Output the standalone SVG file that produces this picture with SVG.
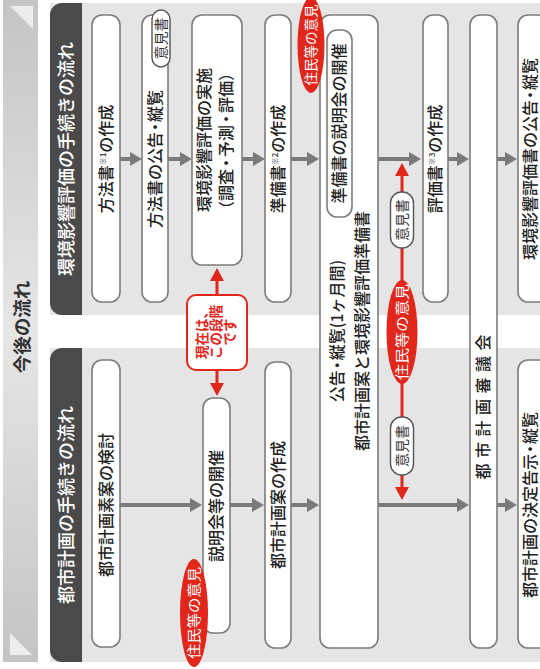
<svg xmlns="http://www.w3.org/2000/svg" width="540" height="669" viewBox="0 0 540 669">
<style>
text{font-family:"Noto Sans CJK JP","Noto Sans",sans-serif;}
.panel{fill:#e5e5e5}
.tab{fill:#4a4a4a}
.tabt{font-size:18px;fill:#fff;text-anchor:middle;font-weight:500}
.node{fill:#fff;stroke:#7d7d7d;stroke-width:1.6}
.t{font-size:16px;fill:#222;text-anchor:middle;font-weight:500}
.sup{font-size:8px}
.arr{stroke:#7a7a7a;stroke-width:4;fill:none}
.red{stroke:#e1261c;stroke-width:3;fill:none}
.ell{fill:#e1261c}
.et{font-size:13.5px;fill:#fff;text-anchor:middle}
.badge{fill:#fff;stroke:#555;stroke-width:1.4}
.bt{font-size:14px;fill:#333;text-anchor:middle}
.now{fill:#fff;stroke:#e1261c;stroke-width:2}
.nt{font-size:13.5px;fill:#e1261c;text-anchor:middle;font-weight:bold}
</style>
<defs>
<linearGradient id="sg" x1="0" y1="0" x2="1" y2="0">
<stop offset="0" stop-color="#c4c4c4"/>
<stop offset="0.5" stop-color="#e6e6e6"/>
<stop offset="1" stop-color="#c4c4c4"/>
</linearGradient>
<marker id="ga" markerUnits="userSpaceOnUse" markerWidth="12" markerHeight="14" refX="2" refY="7" orient="auto">
<path d="M0,0 L12,7 L0,14 Z" fill="#7a7a7a"/>
</marker>
<marker id="ra" markerUnits="userSpaceOnUse" markerWidth="13" markerHeight="14" refX="3" refY="7" orient="auto">
<path d="M0,0 L13,7 L0,14 Z" fill="#e1261c"/>
</marker>
</defs>
<g transform="translate(0,669) rotate(-90)">
<g id="title">
<rect x="7" y="3" width="662" height="35" fill="url(#sg)"/>
<polygon points="663,10 663,33 640,33" fill="#ededed"/>
<polygon points="36,10 14,10 14,32" fill="#ededed"/>
<text x="342" y="29" font-size="18.5" font-weight="bold" fill="#333" text-anchor="middle">今後の流れ</text>
</g>
<g id="panel-env">
<rect class="panel" x="354" y="50" width="312" height="490"/>
<path class="tab" d="M354,82 V62 A12,12 0 0 1 366,50 H654 A12,12 0 0 1 666,62 V82 Z"/>
<text class="tabt" x="510" y="72.5">環境影響評価の手続きの流れ</text>
</g>
<g id="panel-city">
<rect class="panel" x="7" y="50" width="314" height="490"/>
<path class="tab" d="M7,82 V62 A12,12 0 0 1 19,50 H309 A12,12 0 0 1 321,62 V82 Z"/>
<text class="tabt" x="164" y="72.5">都市計画の手続きの流れ</text>
</g>
<g id="connectors">
<line class="arr" x1="510" y1="120" x2="510" y2="132" marker-end="url(#ga)"/>
<line class="arr" x1="510" y1="168" x2="510" y2="182" marker-end="url(#ga)"/>
<line class="arr" x1="510" y1="242" x2="510" y2="255" marker-end="url(#ga)"/>
<line class="arr" x1="510" y1="291" x2="510" y2="309" marker-end="url(#ga)"/>
<line class="arr" x1="510" y1="378" x2="510" y2="411" marker-end="url(#ga)"/>
<line class="arr" x1="510" y1="448" x2="510" y2="459" marker-end="url(#ga)"/>
<line class="arr" x1="510" y1="497" x2="510" y2="507" marker-end="url(#ga)"/>
<line class="arr" x1="164" y1="120" x2="164" y2="192" marker-end="url(#ga)"/>
<line class="arr" x1="164" y1="230" x2="164" y2="254" marker-end="url(#ga)"/>
<line class="arr" x1="164" y1="291" x2="164" y2="309" marker-end="url(#ga)"/>
<line class="arr" x1="164" y1="378" x2="164" y2="459" marker-end="url(#ga)"/>
<line class="arr" x1="164" y1="497" x2="164" y2="507" marker-end="url(#ga)"/>
<line class="red" x1="374" y1="217" x2="391" y2="217" marker-end="url(#ra)"/>
<line class="red" x1="299" y1="217" x2="283" y2="217" marker-end="url(#ra)"/>
<line class="red" x1="337" y1="402" x2="496" y2="402" marker-end="url(#ra)"/>
<line class="red" x1="337" y1="402" x2="179" y2="402" marker-end="url(#ra)"/>
</g>
<g id="n-houhousho">
<rect class="node" x="367" y="92" width="287" height="28" rx="10"/>
<text class="t" x="510" y="111.5">方法書<tspan class="sup" dy="-6">※1</tspan><tspan dy="6">の作成</tspan></text>
</g>
<g id="n-houhou-koukoku">
<rect class="node" x="367" y="142" width="287" height="26" rx="10"/>
<text class="t" x="510" y="160.5">方法書の公告<tspan dx="-3">・</tspan><tspan dx="-3">縦覧</tspan></text>
<rect class="badge" x="602" y="152" width="57" height="18" rx="9"/>
<text class="bt" x="630.5" y="166" font-size="13">意見書</text>
</g>
<g id="n-jisshi">
<rect class="node" x="404" y="192" width="250" height="50" rx="10"/>
<text class="t" x="529" y="209.5">環境影響評価の実施</text>
<text class="t" x="528" y="231.5">（調査<tspan dx="-2">・</tspan><tspan dx="-2">予測</tspan><tspan dx="-2">・</tspan><tspan dx="-2">評価）</tspan></text>
</g>
<g id="n-junbisho">
<rect class="node" x="367" y="265" width="287" height="26" rx="10"/>
<text class="t" x="510" y="283.5">準備書<tspan class="sup" dy="-6">※2</tspan><tspan dy="6">の作成</tspan></text>
</g>
<g id="n-koukoku">
<rect class="node" x="21" y="320" width="633" height="58" rx="10"/>
<rect class="node" x="452" y="327" width="187" height="25" rx="10"/>
<text class="t" x="545.5" y="345">準備書の説明会の開催</text>
<text class="t" x="338" y="343">公告<tspan dx="-3">・</tspan><tspan dx="-3">縦覧(1ヶ月間)</tspan></text>
<text class="t" x="338" y="368">都市計画案と環境影響評価準備書</text>
</g>
<g id="n-hyoukasho">
<rect class="node" x="367" y="423" width="287" height="25" rx="10"/>
<text class="t" x="510" y="441">評価書<tspan class="sup" dy="-6">※3</tspan><tspan dy="6">の作成</tspan></text>
</g>
<g id="n-shingikai">
<rect class="node" x="21" y="470" width="633" height="27" rx="10"/>
<text class="t" x="262" y="489" font-size="15" text-anchor="start" textLength="145" lengthAdjust="spacing">都市計画審議会</text>
</g>
<g id="n-hyoukasho-koukoku">
<rect class="node" x="367" y="518" width="287" height="30" rx="10"/>
<text class="t" x="510" y="536">環境影響評価書の公告<tspan dx="-3">・</tspan><tspan dx="-3">縦覧</tspan></text>
</g>
<g id="n-soan">
<rect class="node" x="22" y="92" width="287" height="28" rx="10"/>
<text class="t" x="164" y="111.5">都市計画素案の検討</text>
</g>
<g id="n-setsumeikai">
<rect class="node" x="36" y="203" width="235" height="27" rx="10"/>
<text class="t" x="163" y="222">説明会等の開催</text>
</g>
<g id="n-an">
<rect class="node" x="21" y="265" width="286" height="26" rx="10"/>
<text class="t" x="164" y="283.5">都市計画案の作成</text>
</g>
<g id="n-kettei">
<rect class="node" x="21" y="518" width="288" height="30" rx="10"/>
<text class="t" x="164" y="536">都市計画の決定告示<tspan dx="-3">・</tspan><tspan dx="-3">縦覧</tspan></text>
</g>
<g id="n-genzai">
<rect class="now" x="299" y="187" width="75" height="60" rx="9"/>
<text class="nt" x="337" y="206.5">現在は、</text>
<text class="nt" x="337" y="220.5">この段階</text>
<text class="nt" x="337" y="235">です</text>
</g>
<g id="n-iken-top">
<ellipse class="ell" cx="624" cy="311" rx="48" ry="13.5"/>
<text class="et" x="624" y="316">住民等の意見</text>
</g>
<g id="n-iken-mid">
<ellipse class="ell" cx="337" cy="402" rx="52" ry="15.5"/>
<text class="et" x="337" y="407" textLength="96" lengthAdjust="spacingAndGlyphs">住民等の意見</text>
</g>
<g id="n-ikensho-up">
<rect class="badge" x="421" y="390.5" width="56" height="23" rx="11"/>
<text class="bt" x="449" y="407">意見書</text>
</g>
<g id="n-ikensho-down">
<rect class="badge" x="194" y="390.5" width="58" height="23" rx="11"/>
<text class="bt" x="223" y="407">意見書</text>
</g>
<g id="n-iken-left">
<ellipse class="ell" cx="56" cy="194" rx="54" ry="14"/>
<text class="et" x="56" y="199" textLength="92" lengthAdjust="spacingAndGlyphs">住民等の意見</text>
</g>
</g>
</svg>
